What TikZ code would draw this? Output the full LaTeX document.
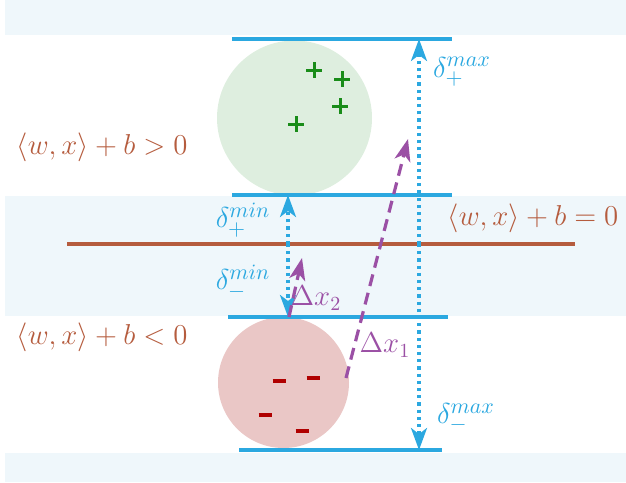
\documentclass[tikz,border=0pt]{standalone}
\usepackage{amsmath,amssymb}
\usetikzlibrary{arrows.meta}
\definecolor{bandblue}{RGB}{239,247,251}
\definecolor{marginblue}{RGB}{43,168,224}
\definecolor{planebrown}{RGB}{181,92,62}
\definecolor{shiftpurple}{RGB}{155,80,165}
\definecolor{posfill}{RGB}{222,238,223}
\definecolor{possign}{RGB}{25,140,25}
\definecolor{negfill}{RGB}{234,199,198}
\definecolor{negsign}{RGB}{176,0,0}
\tikzset{
  margin/.style={marginblue,line width=1.6pt},
  gap/.style={marginblue,line width=1.6pt,dotted,-{Stealth[length=11pt,width=8pt,inset=3pt]}},
  pushvec/.style={shiftpurple,line width=1.6pt,dash pattern=on 6pt off 3.5pt,-{Stealth[length=11pt,width=8pt,inset=3pt]}},
  rule/.style={planebrown,font=\fontsize{15.5}{18}\selectfont},
  gaplabel/.style={marginblue,font=\fontsize{15.5}{18}\selectfont},
}

\begin{document}
\begin{tikzpicture}[x=0.5pt,y=-0.5pt]
\useasboundingbox (0,0) rectangle (626,482);
\fill[bandblue] (5,0) rectangle (626,35);
\fill[bandblue] (5,196) rectangle (626,316);
\fill[bandblue] (5,453) rectangle (626,482);
% the two classes
\fill[posfill] (294.5,118) circle (77.5);
\fill[negfill] (283.5,382.5) circle (65.5);
\foreach \x/\y in {314/70,342/79,340/106,296/124}
  \draw[possign,line width=1.5pt] (\x-8,\y)--(\x+8,\y) (\x,\y-8)--(\x,\y+8);
\foreach \p in {(279,381),(313,378),(265,415),(302,431)}
  \node[negsign,inner sep=0pt] at \p {\rule{6.5pt}{1.8pt}};
% margins and hyperplane
\coordinate (T1) at (232,39); \coordinate (T2) at (452,39);
\coordinate (U1) at (232,195); \coordinate (U2) at (452,195);
\coordinate (L1) at (228,317); \coordinate (L2) at (448,317);
\coordinate (B1) at (239,450); \coordinate (B2) at (442,450);
\coordinate (H1) at (67,244); \coordinate (H2) at (575,244);
\draw[margin] (T1)--(T2); \draw[margin] (U1)--(U2);
\draw[margin] (L1)--(L2); \draw[margin] (B1)--(B2);
\draw[planebrown,line width=1.6pt] (H1)--(H2);
% distances
\coordinate (M) at (288,244); \coordinate (Mu) at (288,195); \coordinate (Ml) at (288,317);
\coordinate (X) at (419,244); \coordinate (Xu) at (419,39); \coordinate (Xl) at (419,450);
\draw[gap] (M)--(Mu); \draw[gap] (M)--(Ml);
\draw[gap] (X)--(Xu); \draw[gap] (X)--(Xl);
\coordinate (S1) at (346,378); \coordinate (E1) at (408,139);
\coordinate (S2) at (289,317); \coordinate (E2) at (302,258);
\draw[pushvec] (S1)--(E1); \draw[pushvec] (S2)--(E2);
% labels
\node[rule] (pos) at (102,147) {$\langle w,x\rangle+b>0$};
\node[rule] (neg) at (102,337) {$\langle w,x\rangle+b<0$};
\node[rule] (zero) at (533,218) {$\langle w,x\rangle+b=0$};
\node[gaplabel] (dpmin) at (243,220) {$\delta_{+}^{min}$};
\node[gaplabel] (dmmin) at (243,282) {$\delta_{-}^{min}$};
\node[gaplabel,anchor=west] (dpmax) at (426,72) {$\delta_{+}^{max}$};
\node[gaplabel,anchor=west] (dmmax) at (430,418) {$\delta_{-}^{max}$};
\node[shiftpurple,font=\Large] (dx1) at (385,345) {$\Delta x_1$};
\node[shiftpurple,font=\Large] (dx2) at (316,298) {$\Delta x_2$};
\end{tikzpicture}
\end{document}
